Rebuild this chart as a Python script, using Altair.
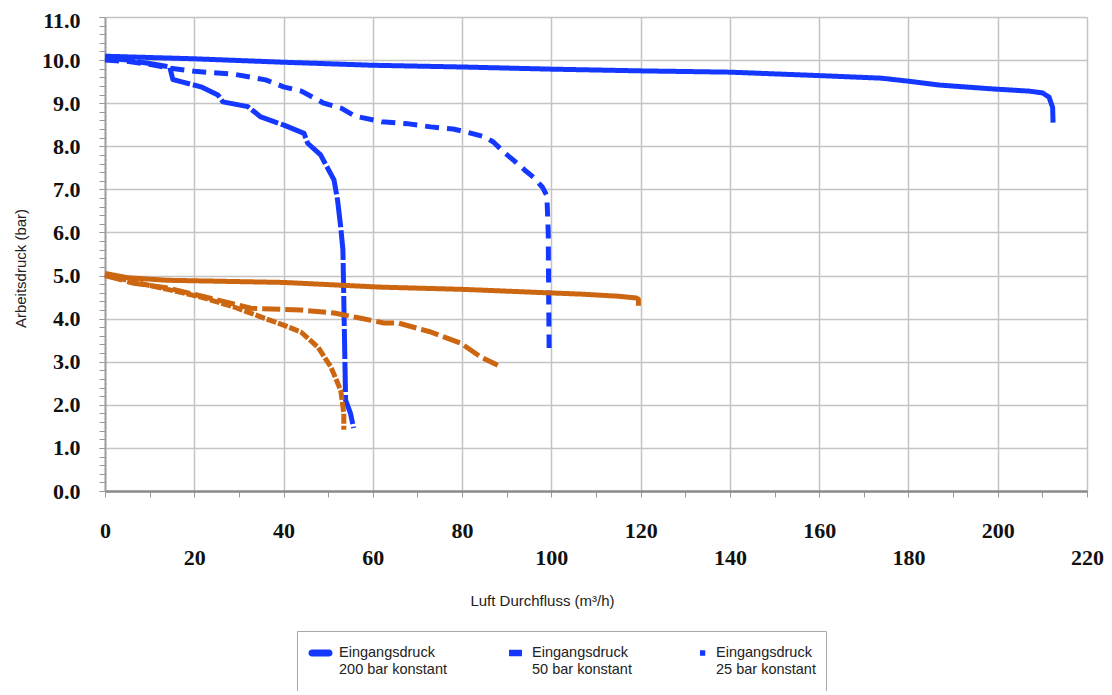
import altair as alt
import pandas as pd

# ---------------- data ----------------
b200_x = [0, 10, 20, 40, 60, 80, 100, 120, 140, 160, 174, 180, 187, 199, 207, 210, 211.5, 212.3, 212.4]
b200_y = [10.09, 10.06, 10.03, 9.95, 9.88, 9.84, 9.79, 9.75, 9.72, 9.64, 9.58, 9.51, 9.42, 9.33, 9.28, 9.24, 9.14, 8.9, 8.55]

b50_x = [0, 5, 10, 14, 20, 29, 36, 40, 44, 49, 53, 56, 62, 68, 73, 78, 81, 85, 87, 89.5, 91.5, 94, 96, 98, 99, 99.3, 99.4, 99.5]
b50_y = [10.0, 9.97, 9.9, 9.82, 9.74, 9.67, 9.54, 9.38, 9.28, 9.0, 8.88, 8.7, 8.57, 8.52, 8.45, 8.4, 8.33, 8.22, 8.1, 7.85, 7.68, 7.45, 7.28, 7.05, 6.85, 6.0, 4.5, 3.32]

b25_x = [0, 5, 10, 14.5, 15.2, 17, 21.5, 25.3, 26.4, 32, 34.9, 40.1, 44.6, 45.4, 48.3, 51.3, 52.1, 52.8, 53.3, 53.5, 53.9, 55, 55.7]
b25_y = [10.05, 10.0, 9.92, 9.84, 9.55, 9.5, 9.38, 9.19, 9.03, 8.92, 8.68, 8.49, 8.3, 8.07, 7.8, 7.22, 6.75, 6.13, 5.6, 4.43, 2.11, 1.8, 1.46]

o200_x = [0, 5, 14, 40, 62, 80, 99, 106.5, 115, 119, 119.5, 119.5]
o200_y = [5.05, 4.95, 4.89, 4.84, 4.73, 4.68, 4.6, 4.57, 4.52, 4.48, 4.45, 4.3]

o50_x = [0, 6.5, 14.1, 25.3, 32.7, 43.9, 51.3, 57.3, 62.5, 65.6, 73, 79.7, 84.2, 88]
o50_y = [5.0, 4.82, 4.71, 4.43, 4.24, 4.2, 4.13, 4.01, 3.9, 3.9, 3.69, 3.43, 3.11, 2.92]

o25_x = [0, 6.5, 14, 21.5, 28.9, 34.9, 40, 43.9, 47.7, 50.6, 52.8, 53.2, 53.5, 53.5]
o25_y = [5.02, 4.85, 4.68, 4.5, 4.27, 4.04, 3.85, 3.69, 3.34, 2.88, 2.34, 2.04, 1.8, 1.42]

series_names = ["Eingangsdruck|200 bar konstant",
                "Eingangsdruck|50 bar konstant",
                "Eingangsdruck|25 bar konstant"]
orange_names = ["200 bar (5 bar)", "50 bar (5 bar)", "25 bar (5 bar)"]

x_tick_values = list(range(0, 221, 5))
y_major_values = list(range(0, 12))
y_minor_values = [round(i * 0.2, 1) for i in range(0, 56)]

BLUE = "#1438FF"
ORANGE = "#CC6610"


def frame(xs, ys, name, group):
    return pd.DataFrame({"x": xs, "y": ys, "series": name, "group": group,
                         "idx": list(range(len(xs)))})


blue = pd.concat([frame(b200_x, b200_y, series_names[0], "blue"),
                  frame(b50_x, b50_y, series_names[1], "blue"),
                  frame(b25_x, b25_y, series_names[2], "blue")])
orange = pd.concat([frame(o200_x, o200_y, orange_names[0], "orange"),
                    frame(o50_x, o50_y, orange_names[1], "orange"),
                    frame(o25_x, o25_y, orange_names[2], "orange")])
legend_rows = blue.groupby("series", sort=False).head(1)

xscale = alt.Scale(domain=[0, 220], nice=False, zero=False)
yscale = alt.Scale(domain=[0, 11], nice=False)

x_axis = alt.Axis(
    values=x_tick_values,
    labelExpr="datum.value % 20 == 0 ? datum.label : ''",
    labelFont="Liberation Serif", labelFontWeight="bold", labelFontSize=22,
    labelColor="#111", labelFlush=False, labelOverlap=False, labelBound=False,
    labelPadding={"condition": {"test": "datum.value % 40 == 20", "value": 50}, "value": 23},
    tickSize=6, tickColor="#9a9a9a", tickWidth=1,
    grid=True, gridColor="#c4c4c4", gridWidth=1.5,
    gridOpacity={"condition": {"test": "datum.value % 20 == 0", "value": 1}, "value": 0},
    domainColor="#8c8c8c", domainWidth=2.5,
    title="Luft Durchfluss (m³/h)", titleFont="Liberation Sans", titleFontSize=15,
    titleFontWeight="normal", titleColor="#222",
    titleX=437, titleY=109, titleAlign="center", titleBaseline="middle",
)

y_axis_major = alt.Axis(
    values=y_major_values, orient="left", format=".1f",
    labelFont="Liberation Serif", labelFontWeight="bold", labelFontSize=22,
    labelColor="#111", labelFlush=False, labelOverlap=False, labelPadding=19,
    labelOffset={"condition": {"test": "datum.value == 11", "value": 3}, "value": 0},
    tickSize=6, tickColor="#9a9a9a", tickWidth=1,
    grid=True, gridColor="#c4c4c4", gridWidth=1.5,
    domainColor="#a0a0a0", domainWidth=2,
    title="Arbeitsdruck (bar)", titleFont="Liberation Sans", titleFontSize=15,
    titleFontWeight="normal", titleColor="#222",
    titleX=-85, titleY=251, titleAlign="center", titleBaseline="middle", titleAngle=-90,
)

y_axis_minor = alt.Axis(
    values=y_minor_values, orient="left", labels=False, grid=False, domain=False,
    tickSize=6, tickColor="#9a9a9a", tickWidth=1, title=None,
)

dash_blue = alt.Scale(domain=series_names, range=[[1, 0], [14, 8], [30, 3]])
dash_orange = alt.Scale(domain=orange_names, range=[[1, 0], [18, 5], [10, 2]])

blue_lines = alt.Chart(blue).mark_line(strokeWidth=5, color=BLUE, strokeCap="butt", strokeJoin="round").encode(
    x=alt.X("x:Q", scale=xscale, axis=x_axis),
    y=alt.Y("y:Q", scale=yscale, axis=y_axis_major),
    strokeDash=alt.StrokeDash("series:N", scale=dash_blue, legend=None),
    order=alt.Order("idx:Q"),
)

orange_lines = alt.Chart(orange).mark_line(strokeWidth=5, color=ORANGE, strokeCap="butt", strokeJoin="round").encode(
    x=alt.X("x:Q", scale=xscale),
    y=alt.Y("y:Q", scale=yscale, axis=y_axis_minor),
    strokeDash=alt.StrokeDash("series:N", scale=dash_orange, legend=None),
    order=alt.Order("idx:Q"),
)

shape_paths = [
    "M-0.58,-0.3 H0.83 A0.3,0.3 0 0 1 0.83,0.3 H-0.58 A0.3,0.3 0 0 1 -0.58,-0.3 Z",
    "M-0.25,-0.27 H0.83 V0.27 H-0.25 Z",
    "M0.33,-0.23 H0.77 V0.23 H0.33 Z",
]

legend_layer = alt.Chart(legend_rows).mark_point(filled=True, color=BLUE, opacity=0).encode(
    x=alt.X("x:Q", scale=xscale),
    y=alt.Y("y:Q", scale=yscale, axis=None),
    shape=alt.Shape("series:N", scale=alt.Scale(domain=series_names, range=shape_paths),
                    legend=alt.Legend(
                        title="\u00a0", titleOrient="bottom", titlePadding=24, titleFontSize=14,
                        orient="none", legendX=192, legendY=614,
                        direction="horizontal", fillColor="white", strokeColor="#a8a8a8",
                        padding=10, symbolSize=576, symbolStrokeWidth=0,
                        symbolFillColor=BLUE,
                        labelExpr="split(datum.label, '|')",
                        labelFont="Liberation Sans", labelFontSize=14.5, labelColor="#222",
                        labelOffset=8, labelLimit=300, labelBaseline="middle",
                        columnPadding=52,
                    )),
)

chart = alt.layer(blue_lines, orange_lines, legend_layer).resolve_scale(
    strokeDash="independent"
).resolve_axis(y="independent").properties(
    width=982, height=474,
    autosize=alt.AutoSizeParams(type="none"),
    padding={"left": 97, "top": 9, "right": 17, "bottom": 200},
).configure_view(stroke="#a0a0a0", strokeWidth=1.5).configure(background="white")

chart.save("out.html", embed_options={"renderer": "svg", "actions": False})
